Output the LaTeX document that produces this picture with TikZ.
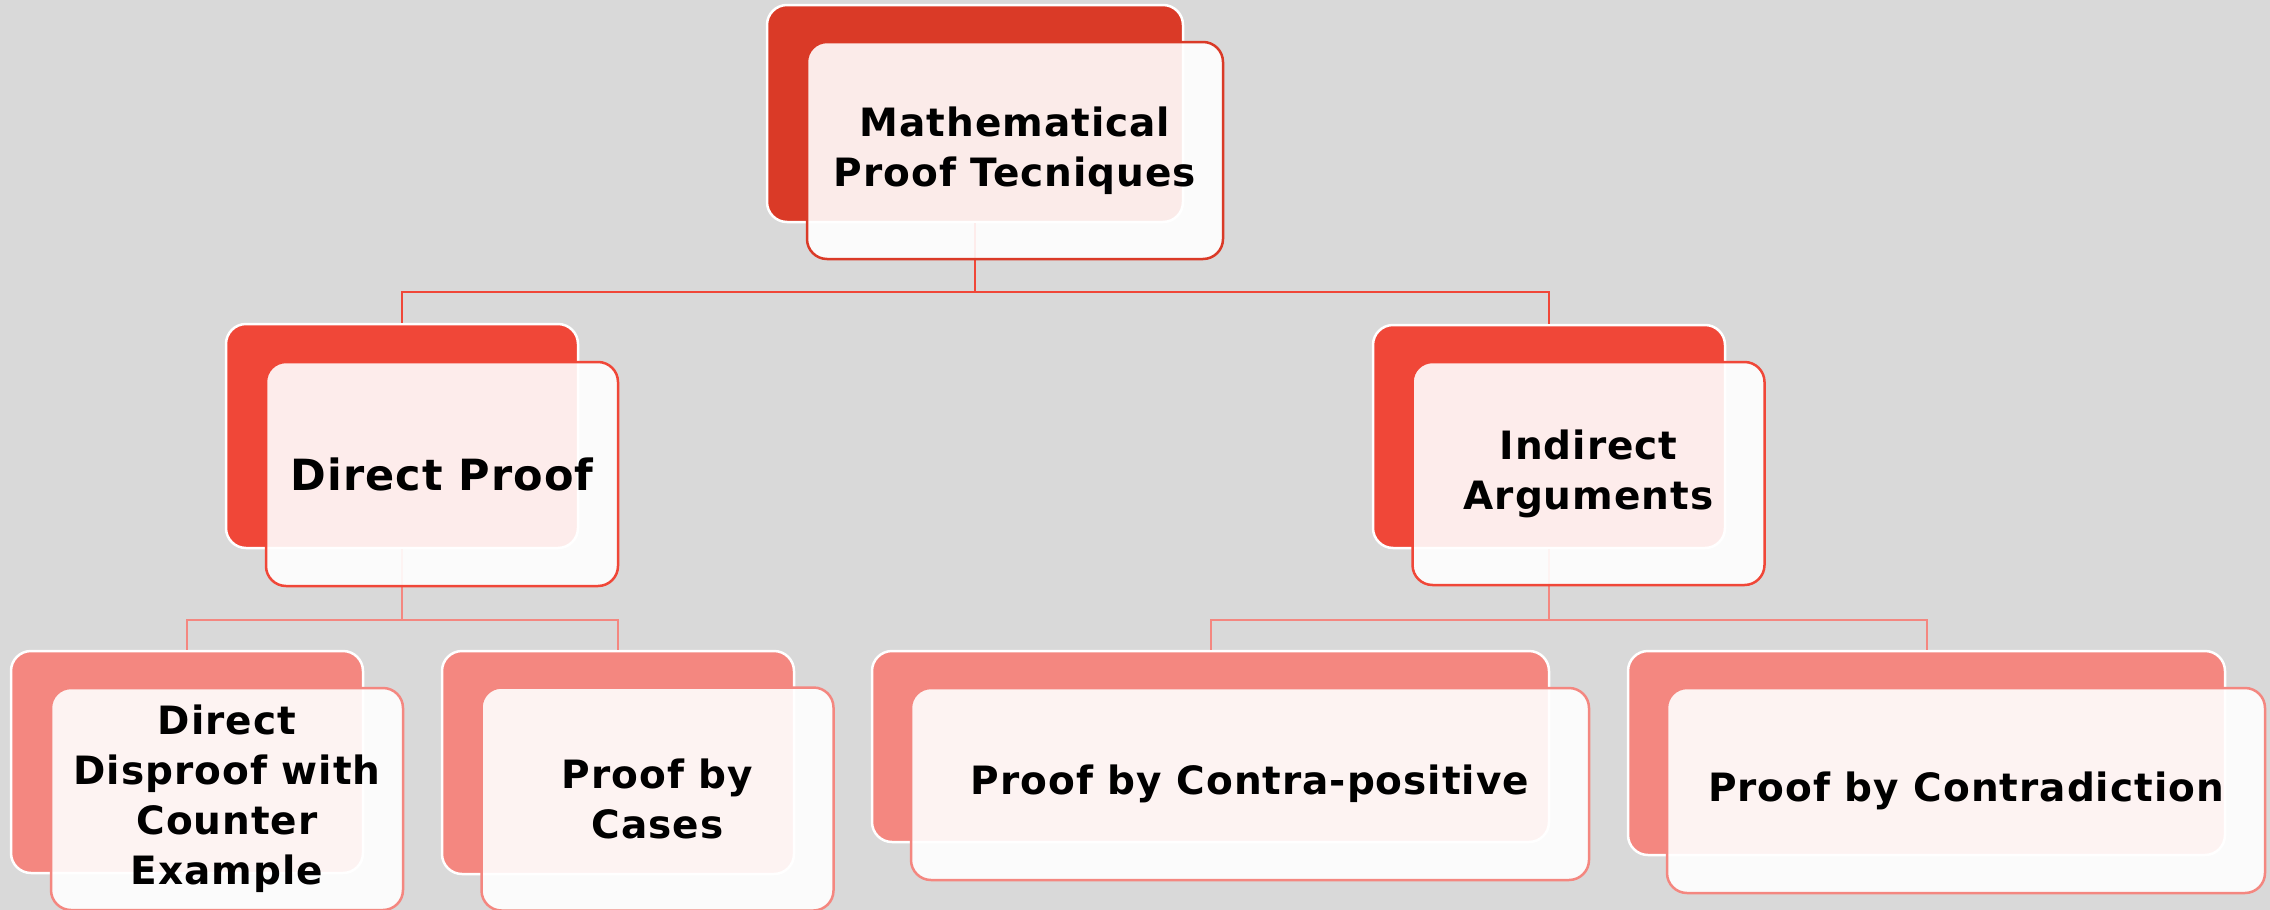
\documentclass[tikz,border=0pt]{standalone}
\usepackage{fontspec}
\setmainfont{DejaVu Sans}
\definecolor{bg}{RGB}{217,217,217}
\definecolor{cTop}{RGB}{218,58,39}
\definecolor{cMid}{RGB}{240,71,56}
\definecolor{cLow}{RGB}{244,135,128}
\tikzset{
  backbox/.style={draw=white, line width=2.5pt, rounded corners=20pt, inner sep=0pt, fill=#1},
  frontbox/.style={draw=#1, line width=2.5pt, rounded corners=20pt, fill=white, fill opacity=0.9,
    text opacity=1, inner sep=0pt, align=center, text=black,
    font=\fontsize{39}{50}\selectfont\bfseries\addfontfeature{LetterSpace=2.5}},
  link/.style={line width=2pt, draw=#1},
}
\begin{document}
\begin{tikzpicture}[x=1pt,y=-1pt]
\fill[bg] (0,0) rectangle (2270,910);
\useasboundingbox (0,0) rectangle (2270,910);
% back boxes
\node[backbox=cTop, minimum width=416pt, minimum height=217pt] (topb) at (975,113.5) {};
\node[backbox=cMid, minimum width=352pt, minimum height=224pt] (dirb) at (402,436) {};
\node[backbox=cMid, minimum width=352pt, minimum height=223pt] (indb) at (1549,436.5) {};
\node[backbox=cLow, minimum width=352pt, minimum height=222pt] (ab) at (187,762) {};
\node[backbox=cLow, minimum width=352pt, minimum height=223pt] (bb) at (618,762.5) {};
\node[backbox=cLow, minimum width=677pt, minimum height=191pt] (cb) at (1210.5,746.5) {};
\node[backbox=cLow, minimum width=597pt, minimum height=204pt] (db) at (1926.5,753) {};
% connectors
\coordinate (j1) at (975,292);
\coordinate (j2) at (402,620);
\coordinate (j3) at (1549,620);
\draw[link=cMid] (topb.south) -- (j1) -| (dirb.north);
\draw[link=cMid] (j1) -| (indb.north);
\draw[link=cLow] (dirb.south) -- (j2) -| (ab.north);
\draw[link=cLow] (j2) -| (bb.north);
\draw[link=cLow] (indb.south) -- (j3) -| (cb.north);
\draw[link=cLow] (j3) -| (db.north);
% front boxes
\node[frontbox=cTop, minimum width=416pt, minimum height=217pt] (topf) at (1015,150.5) {Mathematical\\Proof Tecniques};
\node[frontbox=cMid, minimum width=352pt, minimum height=224pt, font=\fontsize{43}{50}\selectfont\bfseries\addfontfeature{LetterSpace=2.5}] (dirf) at (442,474) {Direct Proof};
\node[frontbox=cMid, minimum width=352pt, minimum height=223pt] (indf) at (1588.5,473.5) {Indirect\\Arguments};
\node[frontbox=cLow, minimum width=352pt, minimum height=222pt] (af) at (227,799) {Direct\\Disproof with\\Counter\\Example};
\node[frontbox=cLow, minimum width=352pt, minimum height=223pt] (bf) at (657.5,799) {Proof by\\Cases};
\node[frontbox=cLow, minimum width=678pt, minimum height=192pt] (cf) at (1250,784) {Proof by Contra-positive};
\node[frontbox=cLow, minimum width=598pt, minimum height=205pt] (df) at (1966,790.5) {Proof by Contradiction};
\end{tikzpicture}
\end{document}
